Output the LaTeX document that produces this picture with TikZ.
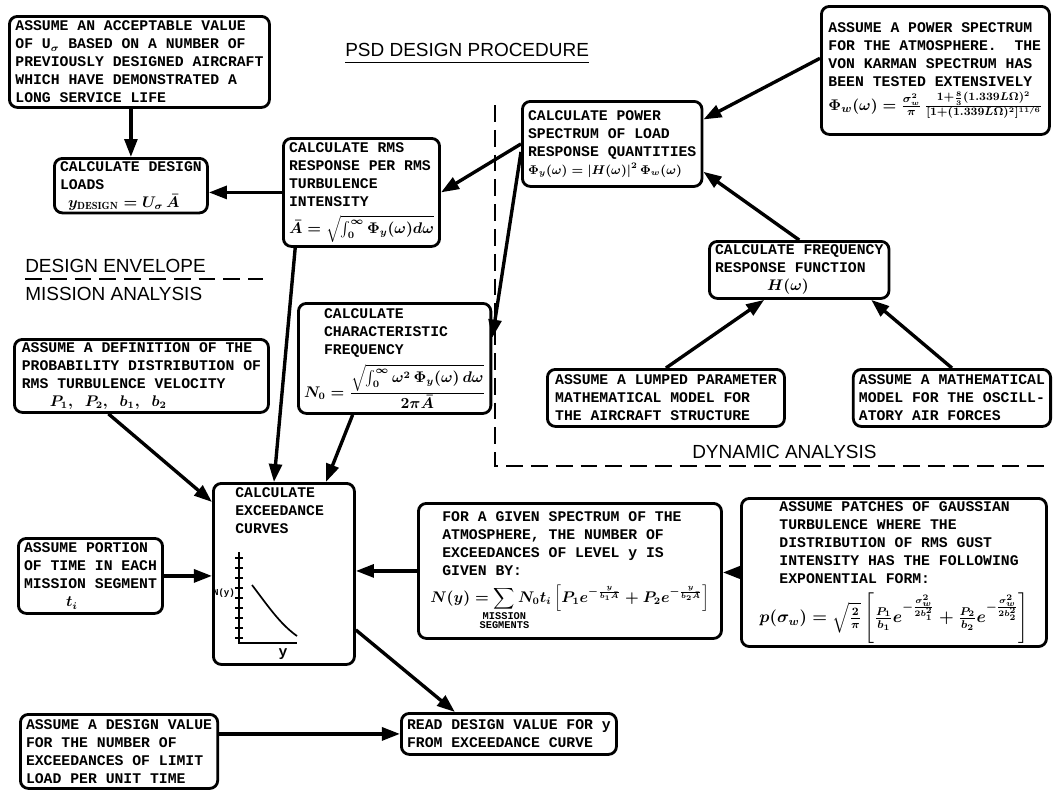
\documentclass[tikz,border=0pt]{standalone}
\usepackage{amsmath}
\usepackage{mathtools}
\usepackage{amssymb}
\usepackage{fontspec}
\newfontfamily\macchina{Liberation Mono}
\newfontfamily\lettere{Liberation Sans}
\usepackage{tikz}
\usetikzlibrary{arrows.meta, calc}

\newcommand{\boxfont}{\macchina\fontsize{10.5}{12.8}\selectfont\bfseries\boldmath}
\newcommand{\titfont}{\lettere\fontsize{13.5}{15}\selectfont}
\newcommand{\formpic}{\fontsize{9.2}{11}\selectfont}

\tikzset{
  box/.style={draw, line width=2pt, rounded corners=0.2cm, align=left, anchor=north west,
    inner xsep=4pt, inner ysep=2pt, font=\boxfont},
  freccia/.style={line width=2.4pt, -{Triangle[length=0.45cm,width=0.32cm]}},
  divisore/.style={line width=1.4pt, dash pattern=on 0.42cm off 0.2cm},
  titolo/.style={font=\titfont, inner sep=0pt, anchor=base west},
}

\begin{document}
\begin{tikzpicture}[x=0.025cm, y=-0.025cm]
  \useasboundingbox (0,0) rectangle (1054,791);

  % Titoli
  \node[titolo] (Tit) at (345,56) {PSD DESIGN PROCEDURE};
  \draw[line width=1.3pt] ([yshift=-0.15cm]Tit.south west) -- ([yshift=-0.15cm]Tit.south east);
  \node[titolo] (Env) at (25,272) {DESIGN ENVELOPE};
  \node[titolo] (Mis) at (25,300) {MISSION\ ANALYSIS};
  \node[titolo] (Dyn) at (692,458) {DYNAMIC ANALYSIS};
  \draw[divisore] (25,279) -- (263,279);
  \draw[divisore] (495,105) -- (495,466) -- (1050,466);

  % Riquadri in alto
  \node[box, minimum width=6.5cm, minimum height=2.275cm] (Usig) at (8,15)
    {ASSUME AN ACCEPTABLE VALUE\\OF U$_{\sigma}$ BASED ON A NUMBER OF\\PREVIOUSLY DESIGNED AIRCRAFT\\WHICH HAVE DEMONSTRATED A\\LONG SERVICE LIFE};
  \node[box, minimum width=3.725cm, minimum height=1.3cm] (Load) at (53,157)
    {CALCULATE DESIGN\\LOADS\\\hspace*{2mm}$y_{\mathrm{DESIGN}} = U_{\sigma}\,\bar{A}$};
  \node[box, minimum width=3.7cm, minimum height=2.7cm] (Rms) at (282,137)
    {CALCULATE RMS\\RESPONSE PER RMS\\TURBULENCE\\INTENSITY\\[5pt]$\bar{A} = \sqrt{\int_0^{\infty}\Phi_y(\omega)d\omega}$};
  \node[box, minimum width=4.35cm, minimum height=2.125cm] (Psd) at (521,100)
    {CALCULATE POWER\\SPECTRUM OF LOAD\\RESPONSE QUANTITIES\\{\formpic$\Phi_y(\omega) = |H(\omega)|^2\,\Phi_w(\omega)$}};
  \node[box, minimum width=5.7cm, minimum height=3.2cm] (Atm) at (820,5)
    {ASSUME A POWER SPECTRUM\\FOR THE ATMOSPHERE.~~THE\\VON KARMAN SPECTRUM HAS\\BEEN TESTED EXTENSIVELY\\[3pt]
     {\fontsize{11}{13}\selectfont$\Phi_w(\omega) = \frac{\sigma_w^2}{\pi}\,\frac{1+\frac{8}{3}(1.339L\Omega)^2}{[1+(1.339L\Omega)^2]^{11/6}}$}};

  % Analisi dinamica
  \node[box, minimum width=4.35cm, minimum height=1.425cm] (Hw) at (708,240)
    {CALCULATE FREQUENCY\\RESPONSE FUNCTION\\\hspace*{1.3cm}$H(\omega)$};
  \node[box, minimum width=5.925cm, minimum height=1.425cm] (Lump) at (546,368)
    {ASSUME A LUMPED PARAMETER\\MATHEMATICAL MODEL FOR\\THE AIRCRAFT STRUCTURE};
  \node[box, anchor=north east, minimum width=4.85cm, minimum height=1.425cm] (Air) at (1052,368)
    {ASSUME A MATHEMATICAL\\MODEL FOR THE OSCILL-\\ATORY AIR FORCES};
  \node[box, minimum width=3.875cm, minimum height=2.75cm] (Nzero) at (297,302)
    {\hspace*{0.5cm}CALCULATE\\\hspace*{0.5cm}CHARACTERISTIC\\\hspace*{0.5cm}FREQUENCY\\[4pt]
     $\displaystyle N_0 = \frac{\sqrt{\int_0^{\infty}\omega^2\,\Phi_y(\omega)\,d\omega}}{2\pi\bar{A}}$};

  % Analisi di missione
  \node[box, minimum width=6.35cm, minimum height=1.825cm] (Prob) at (13,338)
    {ASSUME A DEFINITION OF THE\\PROBABILITY DISTRIBUTION OF\\RMS TURBULENCE VELOCITY\\\hspace*{0.7cm}$P_1,\ P_2,\ b_1,\ b_2$};
  \node[box, minimum width=3.525cm, minimum height=1.875cm] (Time) at (17,537)
    {ASSUME PORTION\\OF TIME IN EACH\\MISSION SEGMENT\\\hspace*{1.05cm}$t_i$};
  \node[box, minimum width=3.525cm, minimum height=4.525cm] (Exc) at (212,482) {};
  \node[font=\boxfont, align=left, anchor=north west, inner sep=0pt] (ExcT) at (235,487)
    {CALCULATE\\EXCEEDANCE\\CURVES};
  \node[box, minimum width=7.575cm, minimum height=3.375cm] (Ny) at (417,502)
    {\hspace*{0.3cm}FOR A GIVEN SPECTRUM OF THE\\\hspace*{0.3cm}ATMOSPHERE, THE NUMBER OF\\
     \hspace*{0.3cm}EXCEEDANCES OF LEVEL y IS\\\hspace*{0.3cm}GIVEN BY:\\[6pt]
     $\displaystyle N(y) = \sum_{\mathclap{\substack{\text{MISSION}\\ \text{SEGMENTS}}}} N_0t_i\left[P_1e^{-\frac{y}{b_1\bar{A}}} + P_2e^{-\frac{y}{b_2\bar{A}}}\right]$};
  \node[box, minimum width=7.625cm, minimum height=3.575cm] (Gauss) at (740,497)
    {\hspace*{0.5cm}ASSUME PATCHES OF GAUSSIAN\\\hspace*{0.5cm}TURBULENCE WHERE THE\\
     \hspace*{0.5cm}DISTRIBUTION OF RMS GUST\\\hspace*{0.5cm}INTENSITY HAS THE FOLLOWING\\
     \hspace*{0.5cm}EXPONENTIAL FORM:\\[6pt]
     {\fontsize{12}{14}\selectfont$p(\sigma_w) = \sqrt{\frac{2}{\pi}}\left[\frac{P_1}{b_1}e^{-\frac{\sigma_w^2}{2b_1^2}} + \frac{P_2}{b_2}e^{-\frac{\sigma_w^2}{2b_2^2}}\right]$}};
  \node[box, minimum width=4.9cm, minimum height=1.85cm] (Dval) at (19,713)
    {ASSUME A DESIGN VALUE\\FOR THE NUMBER OF\\EXCEEDANCES OF LIMIT\\LOAD PER UNIT TIME};
  \node[box, minimum width=5.3cm, minimum height=1.025cm] (Read) at (400,712)
    {READ DESIGN VALUE FOR y\\FROM EXCEEDANCE CURVE};

  % Grafico delle curve
  \draw[line width=1.6pt] (239,552) -- (239,643) -- (297,643);
  \foreach \t in {558,568,...,638}
    \draw[line width=1.2pt] (235,\t) -- (243,\t);
  \draw[line width=1.2pt] (252,585) .. controls (268,606) and (280,624) .. (297,636);
  \node[font=\macchina\fontsize{6.5}{7}\selectfont\bfseries, inner sep=0pt] (Nlab) at (224,593) {N(y)};
  \node[font=\boxfont, anchor=north, inner sep=0pt] (ylab) at (283,648) {y};

  % Frecce
  \draw[freccia] (Usig.south -| Load.north) -- (Load.north);
  \draw[freccia] (Rms.west) -- (Rms.west -| Load.east);
  \draw[freccia] (Psd.west) -- (Rms.east);
  \draw[freccia] ([yshift=-0.2cm]Psd.west) -- (Nzero.12);
  \draw[freccia] (Atm.174) -- (Psd.15);
  \draw[freccia] (Hw.north) -- (Psd.-17);
  \draw[freccia] (Lump.north) -- ([xshift=-0.875cm]Hw.south);
  \draw[freccia] (Air.north) -- ([xshift=1.8cm]Hw.south);
  \draw[freccia] ([xshift=0.33cm]Rms.south west) -- ([xshift=-0.25cm]Exc.north);
  \draw[freccia] ([xshift=-1.05cm]Nzero.south) -- ([xshift=1.05cm]Exc.north);
  \draw[freccia] ([xshift=-0.825cm]Prob.south) -- ([yshift=-0.5cm]Exc.north west);
  \draw[freccia] (Time.east) -- (Time.east -| Exc.west);
  \draw[freccia] (Ny.west) -- (Ny.west -| Exc.east);
  \draw[freccia] (Gauss.west) -- (Gauss.west -| Ny.east);
  \draw[freccia] ([yshift=-1.4cm]Exc.east) -- ([xshift=-1.35cm]Read.north);
  \draw[freccia] (Read.west -| Dval.east) -- (Read.west);
\end{tikzpicture}
\end{document}
